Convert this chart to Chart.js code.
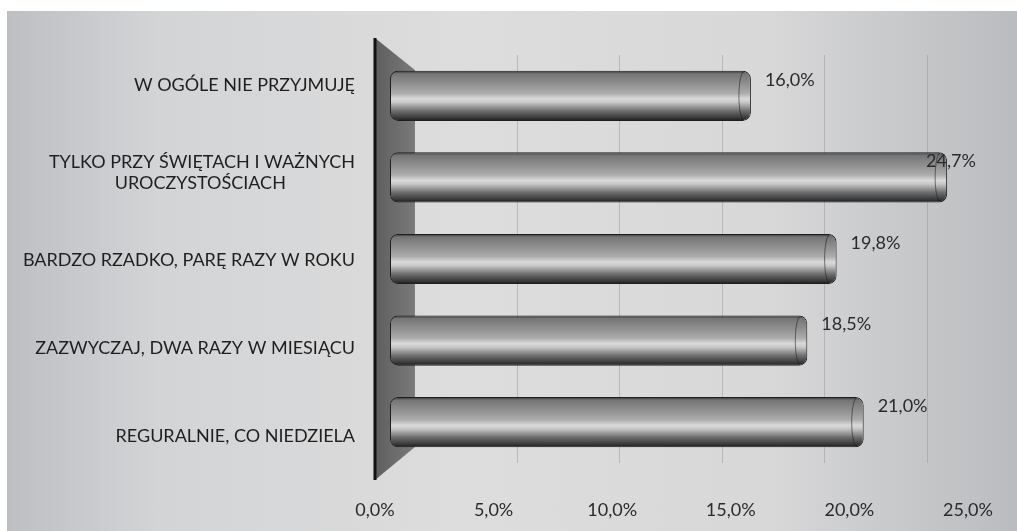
<!DOCTYPE html>
<html>
<head>
<meta charset="utf-8">
<script src="https://cdn.jsdelivr.net/npm/chart.js@4.4.1/dist/chart.umd.min.js"></script>
<style>
  html, body { margin: 0; padding: 0; background: #fff; }
  #wrap {
    position: absolute; left: 7px; top: 11px; width: 1010px; height: 520px;
    background: linear-gradient(to right, #bdbfc3 0%, #d3d4d6 15%, #dddddd 45%, #d8d8d9 75%, #babcbf 100%);
  }
</style>
</head>
<body>
<div id="wrap"><canvas id="chart"></canvas></div>
<script>
// data
const categories = [
  'W OGÓLE NIE PRZYJMUJĘ',
  ['TYLKO PRZY ŚWIĘTACH I WAŻNYCH', 'UROCZYSTOŚCIACH'],
  'BARDZO RZADKO, PARĘ RAZY W ROKU',
  'ZAZWYCZAJ, DWA RAZY W MIESIĄCU',
  'REGURALNIE, CO NIEDZIELA'
];
const values = [16.0, 24.7, 19.8, 18.5, 21.0];
const xTickValues = [0, 5, 10, 15, 20, 25];
const gridValues = [5, 10, 15, 20, 25];

const FONT = 'Lato';
const BAR_PCT = 0.615;

function fmt(v) {
  return v.toFixed(1).replace('.', ',') + '%';
}

// pad the shorter line of a 2-line label so the lines look centred on each other
const measureCtx = document.createElement('canvas').getContext('2d');
measureCtx.font = '18px ' + FONT;
function centerLines(label) {
  if (!Array.isArray(label)) return label;
  const widths = label.map(l => measureCtx.measureText(l).width);
  const maxW = Math.max(...widths);
  const sp = measureCtx.measureText('\u00A0').width;
  return label.map((l, i) => l + '\u00A0'.repeat(Math.round((maxW - widths[i]) / 2 / sp)));
}

function cylinder(c) {
  const chart = c.chart;
  const area = chart.chartArea;
  if (!area) return '#888';
  const yc = chart.scales.y.getPixelForValue(c.dataIndex);
  const h = area.height / categories.length * BAR_PCT;
  const g = chart.ctx.createLinearGradient(0, yc - h / 2, 0, yc + h / 2);
  g.addColorStop(0, '#2e2e2e');
  g.addColorStop(0.06, '#757575');
  g.addColorStop(0.25, '#8e8e8e');
  g.addColorStop(0.45, '#acacac');
  g.addColorStop(0.56, '#dadada');
  g.addColorStop(0.63, '#c8c8c8');
  g.addColorStop(0.8, '#6e6e6e');
  g.addColorStop(0.93, '#3c3c3c');
  g.addColorStop(1, '#1c1c1c');
  return g;
}

function noPad(s) {
  s.paddingLeft = 0; s.paddingRight = 0; s.paddingTop = 0; s.paddingBottom = 0;
}

// dark side wall of the 3D plot
const wallPlugin = {
  id: 'wall',
  beforeDatasetsDraw(chart) {
    const {ctx, chartArea: a, scales} = chart;
    const xl = scales.x2.getPixelForValue(0);
    const xr = scales.xg.getPixelForValue(0);
    ctx.save();
    const g = ctx.createLinearGradient(xl, 0, xr, 0);
    g.addColorStop(0, '#5e5e5e');
    g.addColorStop(1, '#7a7a7a');
    ctx.fillStyle = g;
    ctx.beginPath();
    ctx.moveTo(xl, a.top - 17);
    ctx.lineTo(xr, a.top + 15);
    ctx.lineTo(xr, a.bottom - 16);
    ctx.lineTo(xl, a.bottom + 17);
    ctx.closePath();
    ctx.fill();
    ctx.strokeStyle = '#111';
    ctx.lineWidth = 3;
    ctx.beginPath();
    ctx.moveTo(xl, a.top - 17);
    ctx.lineTo(xl, a.bottom + 17);
    ctx.stroke();
    ctx.restore();
  }
};

// rim of the cylinder ends and the value labels
const labelPlugin = {
  id: 'valueLabels',
  afterDatasetsDraw(chart) {
    const {ctx} = chart;
    const meta = chart.getDatasetMeta(0);
    const limit = chart.scales.x2.getPixelForValue(25) + 8;
    ctx.save();
    meta.data.forEach((el, i) => {
      const h = el.height;
      ctx.strokeStyle = 'rgba(25,25,25,0.55)';
      ctx.lineWidth = 1;
      ctx.beginPath();
      ctx.ellipse(el.x - 7, el.y, 5, h / 2 - 1, 0, Math.PI / 2, Math.PI * 1.5);
      ctx.stroke();

      const txt = fmt(values[i]);
      ctx.font = '18px ' + FONT;
      ctx.fillStyle = '#2b2b2b';
      ctx.textAlign = 'left';
      ctx.textBaseline = 'middle';
      const w = ctx.measureText(txt).width;
      let x = el.x + 14;
      if (x + w > limit) x = limit - w;
      ctx.fillText(txt, x, el.y - 16);
    });
    ctx.restore();
  }
};

new Chart(document.getElementById('chart'), {
  type: 'bar',
  data: {
    labels: categories,
    datasets: [{
      data: values,
      xAxisID: 'x',
      yAxisID: 'y',
      backgroundColor: cylinder,
      borderColor: '#1e1e1e',
      borderWidth: 1,
      borderRadius: 8,
      borderSkipped: false,
      barPercentage: BAR_PCT,
      categoryPercentage: 1
    }]
  },
  options: {
    indexAxis: 'y',
    responsive: true,
    maintainAspectRatio: false,
    animation: false,
    layout: {padding: {left: 0, right: 27, top: 44, bottom: 0}},
    plugins: {legend: {display: false}, tooltip: {enabled: false}},
    scales: {
      x: {type: 'linear', min: -1.33, max: 26.6, display: false},
      y: {type: 'category', display: false},
      x2: {
        type: 'linear', position: 'bottom', min: -0.632, max: 25.93, offset: false,
        grid: {display: false, drawTicks: false},
        border: {display: false},
        afterBuildTicks: s => { s.ticks = xTickValues.map(v => ({value: v})); },
        afterFit: s => { s.height = 68; noPad(s); },
        ticks: {
          autoSkip: false, maxRotation: 0, padding: 36, color: '#2b2b2b',
          font: {family: FONT, size: 18},
          callback: v => fmt(v)
        }
      },
      xg: {
        type: 'linear', position: 'bottom', min: -2.68, max: 28.05, offset: false,
        grid: {color: 'rgba(150,150,150,0.5)', drawTicks: false},
        border: {display: false},
        ticks: {display: false},
        afterBuildTicks: s => { s.ticks = gridValues.map(v => ({value: v})); },
        afterFit: s => { s.height = 0; noPad(s); }
      },
      y2: {
        type: 'linear', position: 'left', reverse: true, min: -0.342, max: 4.308, offset: false,
        grid: {display: false, drawTicks: false},
        border: {display: false},
        afterBuildTicks: s => { s.ticks = categories.map((c, i) => ({value: i})); },
        afterFit: s => { s.width = 353; noPad(s); },
        ticks: {
          autoSkip: false, padding: 5, color: '#1f1f1f',
          font: {family: FONT, size: 18},
          callback: v => centerLines(categories[v])
        }
      }
    }
  },
  plugins: [wallPlugin, labelPlugin]
});
</script>
</body>
</html>
